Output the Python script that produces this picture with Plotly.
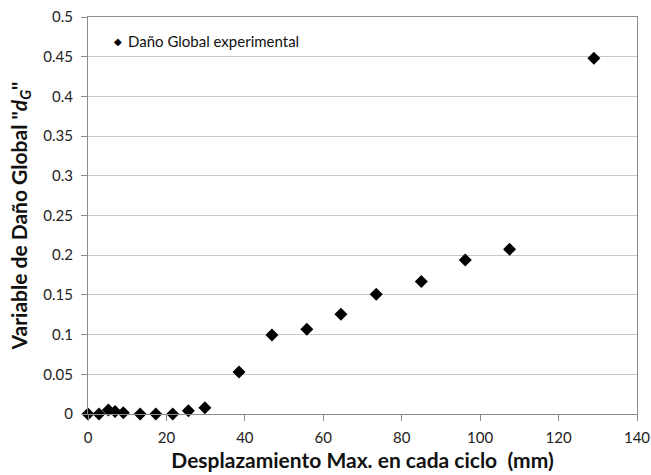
import plotly.graph_objects as go

# Maximum displacement per cycle (mm) and measured global damage index
desplazamiento = [0, 2.8, 5.2, 6.9, 9.0, 13.3, 17.3, 21.6, 25.6, 29.8,
                  38.5, 46.9, 55.8, 64.5, 73.5, 85.0, 96.2, 107.5, 129.0]
dano_global = [0.0, 0.0, 0.005, 0.003, 0.0016, 0.0, 0.0, 0.0, 0.004, 0.008,
               0.053, 0.0995, 0.1067, 0.1256, 0.1508, 0.167, 0.194, 0.2074, 0.448]

x_ticks = [0, 20, 40, 60, 80, 100, 120, 140]
y_ticks = [0, 0.05, 0.1, 0.15, 0.2, 0.25, 0.3, 0.35, 0.4, 0.45, 0.5]
serie = "Daño Global experimental"

FONT = "Lato, Open Sans, sans-serif"

fig = go.Figure()
fig.add_trace(go.Scatter(
    x=desplazamiento, y=dano_global, mode="markers", name=serie,
    marker=dict(symbol="diamond", size=10, color="black"),
    cliponaxis=False, showlegend=False,
))

# legend key: small diamond followed by the series name
fig.add_annotation(
    xref="paper", yref="paper", x=0.0546, y=0.9395, xanchor="center", yanchor="middle",
    text="◆", showarrow=False, font=dict(family="DejaVu Sans", size=10, color="black"),
)
fig.add_annotation(
    xref="paper", yref="paper", x=0.069, y=0.9395, xanchor="left", yanchor="middle",
    text=serie, showarrow=False, font=dict(family=FONT, size=15, color="#111"),
)

fig.update_layout(
    width=651, height=475,
    margin=dict(l=88, r=14, t=17, b=61),
    paper_bgcolor="white", plot_bgcolor="white",
    font=dict(family=FONT, size=14, color="#222"),
    xaxis=dict(
        range=[0, 140], tickvals=x_ticks, ticktext=[str(v) for v in x_ticks],
        showgrid=False, zeroline=False, automargin=False,
        showline=True, linecolor="#8c8c8c", linewidth=1, mirror=True,
        ticks="outside", ticklen=6, tickcolor="#8c8c8c", ticklabelstandoff=4,
        tickfont=dict(size=15, color="#222"),
        title=dict(text="<b>Desplazamiento Max. en cada ciclo  (mm)</b>",
                   font=dict(size=21, color="#111"), standoff=8),
    ),
    yaxis=dict(
        range=[0, 0.5], tickvals=y_ticks,
        ticktext=["0", "0.05", "0.1", "0.15", "0.2", "0.25", "0.3",
                  "0.35", "0.4", "0.45", "0.5"],
        showgrid=True, gridcolor="#c8c8c8", gridwidth=1, zeroline=False,
        automargin=False,
        showline=True, linecolor="#8c8c8c", linewidth=1, mirror=True,
        ticks="outside", ticklen=6, tickcolor="#8c8c8c", ticklabelstandoff=5,
        tickfont=dict(size=15, color="#222"),
        title=dict(text='<b>Variable de Daño Global "<i>d</i><sub><i>G</i></sub>"</b>',
                   font=dict(size=21, color="#111"), standoff=10),
    ),
)

fig.write_html("out.html")
